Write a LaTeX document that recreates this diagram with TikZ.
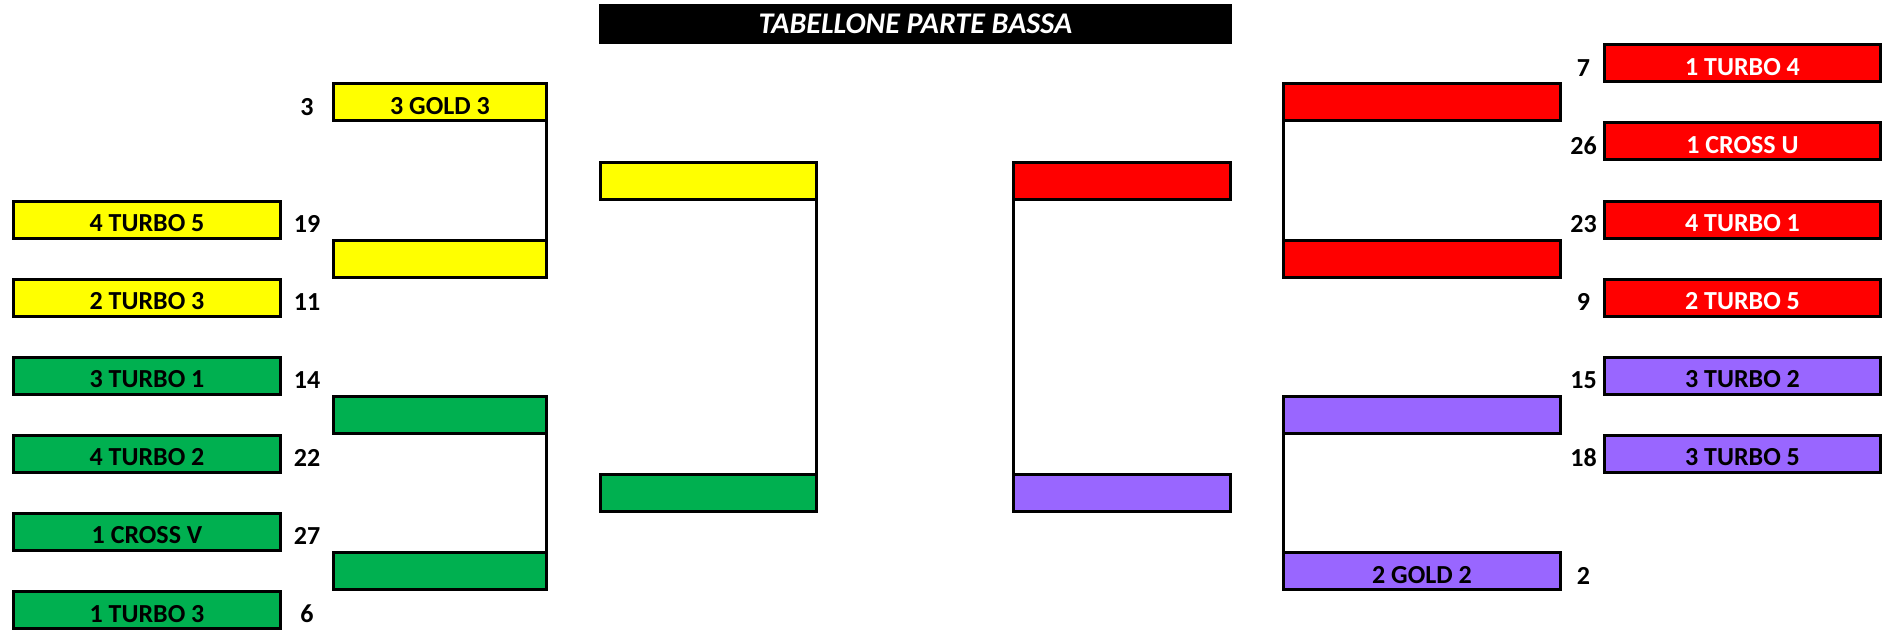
\documentclass[tikz,border=0pt]{standalone}
\usepackage{fontspec}
\setmainfont{Carlito}
\definecolor{cyel}{HTML}{FFFF00}
\definecolor{cred}{HTML}{FF0000}
\definecolor{cgrn}{HTML}{00B050}
\definecolor{cpur}{HTML}{9966FF}
\begin{document}
\begin{tikzpicture}[x=0.5pt,y=-0.5pt,
  box/.style={draw=black,line width=1.5pt,rectangle,inner sep=0pt,outer sep=0pt,
    minimum height=18.5pt,text height=12pt,text depth=0pt,font=\fontsize{13pt}{15pt}\selectfont\bfseries},
  c1l/.style={box,minimum width=133.5pt},
  c2l/.style={box,minimum width=106.5pt},
  c3l/.style={box,minimum width=108pt},
  c3r/.style={box,minimum width=108.5pt},
  c2r/.style={box,minimum width=138.5pt},
  c1r/.style={box,minimum width=138pt},
  num/.style={inner sep=0pt,font=\fontsize{13pt}{15pt}\selectfont\bfseries},
  conn/.style={draw=black,line width=1.5pt},
  ttl/.style={fill=black,text=white,inner sep=0pt,minimum width=316.5pt,minimum height=20pt,
    font=\fontsize{15pt}{17pt}\selectfont\bfseries\itshape}]
\useasboundingbox (0,0) rectangle (1886,629);
% title
\node[ttl] (title) at (915.5,24) {TABELLONE PARTE BASSA};
% left column 1
\node[c1l,fill=cyel] (l1a) at (147,219.5) {4 TURBO 5};
\node[c1l,fill=cyel] (l1b) at (147,297.6) {2 TURBO 3};
\node[c1l,fill=cgrn] (l1c) at (147,375.7) {3 TURBO 1};
\node[c1l,fill=cgrn] (l1d) at (147,453.8) {4 TURBO 2};
\node[c1l,fill=cgrn] (l1e) at (147,531.9) {1 CROSS V};
\node[c1l,fill=cgrn] (l1f) at (147,610) {1 TURBO 3};
% left numbers
\node[num] (n3) at (307,107) {3};
\node[num] (n19) at (307,224) {19};
\node[num] (n11) at (307,302) {11};
\node[num] (n14) at (307,380) {14};
\node[num] (n22) at (307,458) {22};
\node[num] (n27) at (307,536) {27};
\node[num] (n6) at (307,614) {6};
% left column 2
\node[c2l,fill=cyel] (l2a) at (440,102) {3 GOLD 3};
\node[c2l,fill=cyel] (l2b) at (440,259) {};
\node[c2l,fill=cgrn] (l2c) at (440,415) {};
\node[c2l,fill=cgrn] (l2d) at (440,571) {};
% left column 3
\node[c3l,fill=cyel] (l3a) at (708.5,181) {};
\node[c3l,fill=cgrn] (l3b) at (708.5,493) {};
% right column 3
\node[c3r,fill=cred] (r3a) at (1122,181) {};
\node[c3r,fill=cpur] (r3b) at (1122,493) {};
% right column 2
\node[c2r,fill=cred] (r2a) at (1422,102) {};
\node[c2r,fill=cred] (r2b) at (1422,259) {};
\node[c2r,fill=cpur] (r2c) at (1422,415) {};
\node[c2r,fill=cpur] (r2d) at (1422,571) {2 GOLD 2};
% right numbers
\node[num] (m7) at (1583.5,68) {7};
\node[num] (m26) at (1583.5,146) {26};
\node[num] (m23) at (1583.5,224) {23};
\node[num] (m9) at (1583.5,302) {9};
\node[num] (m15) at (1583.5,380) {15};
\node[num] (m18) at (1583.5,458) {18};
\node[num] (m2) at (1583.5,576) {2};
% right column 1
\node[c1r,fill=cred,text=white] (r1a) at (1742.5,63.3) {1 TURBO 4};
\node[c1r,fill=cred,text=white] (r1b) at (1742.5,141.4) {1 CROSS U};
\node[c1r,fill=cred,text=white] (r1c) at (1742.5,219.5) {4 TURBO 1};
\node[c1r,fill=cred,text=white] (r1d) at (1742.5,297.6) {2 TURBO 5};
\node[c1r,fill=cpur] (r1e) at (1742.5,375.7) {3 TURBO 2};
\node[c1r,fill=cpur] (r1f) at (1742.5,453.8) {3 TURBO 5};
% connectors
\draw[conn] (l2a.south east) -- (l2b.north east);
\draw[conn] (l2c.south east) -- (l2d.north east);
\draw[conn] (l3a.south east) -- (l3b.north east);
\draw[conn] (r3a.south west) -- (r3b.north west);
\draw[conn] (r2a.south west) -- (r2b.north west);
\draw[conn] (r2c.south west) -- (r2d.north west);
\end{tikzpicture}
\end{document}
